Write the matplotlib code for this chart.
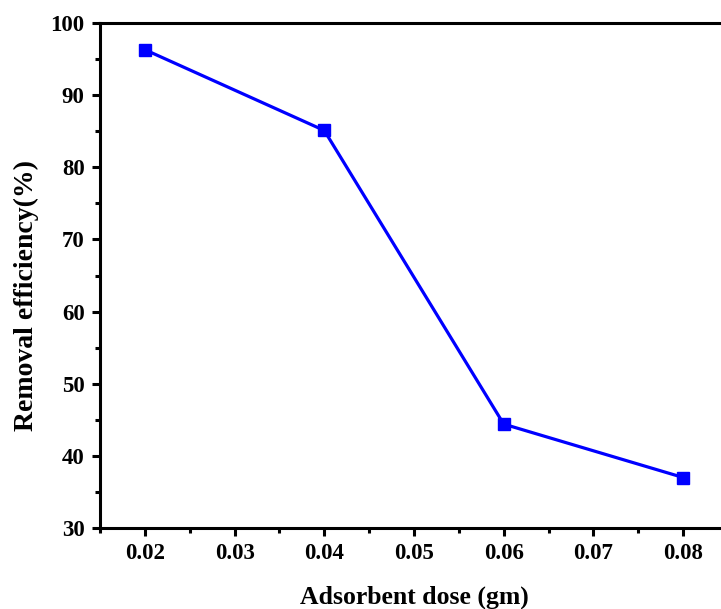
import numpy as np
import matplotlib.pyplot as plt
from matplotlib.ticker import MultipleLocator

# data
dose = [0.02, 0.04, 0.06, 0.08]
removal = [96.3, 85.1, 44.4, 37.0]

plt.rcParams['font.family'] = ['Liberation Serif', 'DejaVu Serif']
plt.rcParams['font.weight'] = 'bold'

fig = plt.figure(figsize=(7.21, 6.09), dpi=100)
ax = fig.add_axes([100/721, 81/609, 628/721, 505/609])

ax.plot(dose, removal, color='#0000ff', lw=2.3, marker='s', ms=8.5,
        markerfacecolor='#0000ff', markeredgecolor='#0000ff')

ax.set_xlim(0.015, 0.085)
ax.set_ylim(30, 100)
ax.xaxis.set_major_locator(MultipleLocator(0.01))
ax.xaxis.set_minor_locator(MultipleLocator(0.005))
ax.yaxis.set_major_locator(MultipleLocator(10))
ax.yaxis.set_minor_locator(MultipleLocator(5))
ax.set_xticks([0.02, 0.03, 0.04, 0.05, 0.06, 0.07, 0.08])
ax.set_xticklabels(['0.02', '0.03', '0.04', '0.05', '0.06', '0.07', '0.08'])

for s in ax.spines.values():
    s.set_linewidth(2.2)
ax.spines['right'].set_visible(False)

ax.tick_params(which='major', direction='out', length=6, width=2.2,
               labelsize=16.5, pad=5)
ax.tick_params(which='minor', direction='out', length=3.5, width=2.2)
for lab in ax.get_xticklabels() + ax.get_yticklabels():
    lab.set_fontweight('bold')

ax.set_xlabel('Adsorbent dose (gm)', fontsize=18.5, fontweight='bold', labelpad=15)
ax.set_ylabel('Removal efficiency(%)', fontsize=20, fontweight='bold')
ax.yaxis.set_label_coords(-61/628, 0.461)

plt.savefig('out.png', dpi=100)
